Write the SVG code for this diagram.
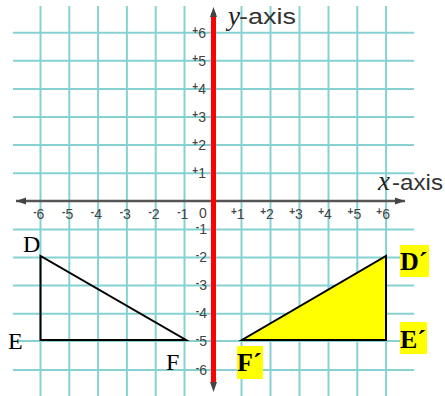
<svg xmlns="http://www.w3.org/2000/svg" width="445" height="396" viewBox="0 0 445 396">
<defs>
<style>
.grid line{stroke:#86d2d2;stroke-width:2}
.tick{font-family:"Liberation Sans",Arial,sans-serif;font-size:14px;fill:#444}
.sm{font-size:10px;font-weight:bold}
.ax{font-family:"Liberation Sans",Arial,sans-serif;font-size:22px;fill:#333}
.var{font-family:"Liberation Serif","Times New Roman",serif;font-style:italic;font-size:27px;fill:#222}
.lbl{font-family:"Liberation Serif","Times New Roman",serif;font-size:24px;fill:#000}
.lblp{font-family:"Liberation Serif","Times New Roman",serif;font-size:26px;font-weight:bold;fill:#000}
.hl{fill:#ffff00}
.tri{stroke:#000;stroke-width:2;stroke-linejoin:miter}
</style>
<marker id="arrA" viewBox="0 0 10 10" refX="10" refY="5" markerWidth="10" markerHeight="10" markerUnits="userSpaceOnUse" orient="auto">
<path d="M0,1.5 L10,5 L0,8.5 z" fill="#444"/>
</marker>
</defs>
<rect width="445" height="396" fill="#fff"/>
<g id="grid" class="grid">
<line x1="40.5" y1="6" x2="40.5" y2="396"/>
<line x1="69.3" y1="6" x2="69.3" y2="396"/>
<line x1="98.1" y1="6" x2="98.1" y2="396"/>
<line x1="126.9" y1="6" x2="126.9" y2="396"/>
<line x1="155.7" y1="6" x2="155.7" y2="396"/>
<line x1="184.5" y1="6" x2="184.5" y2="396"/>
<line x1="241.5" y1="6" x2="241.5" y2="396"/>
<line x1="270.5" y1="6" x2="270.5" y2="396"/>
<line x1="299.5" y1="6" x2="299.5" y2="396"/>
<line x1="328.5" y1="6" x2="328.5" y2="396"/>
<line x1="357.3" y1="6" x2="357.3" y2="396"/>
<line x1="386.1" y1="6" x2="386.1" y2="396"/>
<line x1="13" y1="32.7" x2="414" y2="32.7"/>
<line x1="13" y1="60.8" x2="414" y2="60.8"/>
<line x1="13" y1="88.9" x2="414" y2="88.9"/>
<line x1="13" y1="117" x2="414" y2="117"/>
<line x1="13" y1="145.1" x2="414" y2="145.1"/>
<line x1="13" y1="173.2" x2="414" y2="173.2"/>
<line x1="13" y1="229.4" x2="414" y2="229.4"/>
<line x1="13" y1="257.5" x2="414" y2="257.5"/>
<line x1="13" y1="285.6" x2="414" y2="285.6"/>
<line x1="13" y1="313.7" x2="414" y2="313.7"/>
<line x1="13" y1="341" x2="414" y2="341"/>
<line x1="13" y1="370" x2="414" y2="370"/>
</g>
<g id="connectors">
<line id="x-axis" x1="213" y1="201" x2="16" y2="201" stroke="#555" stroke-width="2.5" marker-end="url(#arrA)"/>
<line x1="213" y1="201" x2="405" y2="201" stroke="#555" stroke-width="2.5" marker-end="url(#arrA)"/>
<line id="y-axis" x1="213.5" y1="13" x2="213.5" y2="382" stroke="#ff0000" stroke-width="5"/>
<line x1="213.5" y1="20" x2="213.5" y2="7" stroke="#444" stroke-width="0.01" marker-end="url(#arrA)"/>
<line x1="213.5" y1="380" x2="213.5" y2="392" stroke="#444" stroke-width="0.01" marker-end="url(#arrA)"/>
</g>
<g id="x-ticks" class="tick">
<text x="44.4" y="219" text-anchor="end"><tspan class="sm" dy="-4">-</tspan><tspan dy="4">6</tspan></text>
<text x="73.2" y="219" text-anchor="end"><tspan class="sm" dy="-4">-</tspan><tspan dy="4">5</tspan></text>
<text x="102" y="219" text-anchor="end"><tspan class="sm" dy="-4">-</tspan><tspan dy="4">4</tspan></text>
<text x="130.8" y="219" text-anchor="end"><tspan class="sm" dy="-4">-</tspan><tspan dy="4">3</tspan></text>
<text x="159.6" y="219" text-anchor="end"><tspan class="sm" dy="-4">-</tspan><tspan dy="4">2</tspan></text>
<text x="188.4" y="219" text-anchor="end"><tspan class="sm" dy="-4">-</tspan><tspan dy="4">1</tspan></text>
<text x="203" y="218" text-anchor="middle">0</text>
<text x="244.6" y="219" text-anchor="end"><tspan class="sm" dy="-4">+</tspan><tspan dy="4">1</tspan></text>
<text x="273.8" y="219" text-anchor="end"><tspan class="sm" dy="-4">+</tspan><tspan dy="4">2</tspan></text>
<text x="302.8" y="219" text-anchor="end"><tspan class="sm" dy="-4">+</tspan><tspan dy="4">3</tspan></text>
<text x="331.8" y="219" text-anchor="end"><tspan class="sm" dy="-4">+</tspan><tspan dy="4">4</tspan></text>
<text x="361.2" y="219" text-anchor="end"><tspan class="sm" dy="-4">+</tspan><tspan dy="4">5</tspan></text>
<text x="390" y="219" text-anchor="end"><tspan class="sm" dy="-4">+</tspan><tspan dy="4">6</tspan></text>
</g>
<g id="y-ticks" class="tick">
<text x="206" y="38" text-anchor="end"><tspan class="sm" dy="-4">+</tspan><tspan dy="4">6</tspan></text>
<text x="206" y="66" text-anchor="end"><tspan class="sm" dy="-4">+</tspan><tspan dy="4">5</tspan></text>
<text x="206" y="94" text-anchor="end"><tspan class="sm" dy="-4">+</tspan><tspan dy="4">4</tspan></text>
<text x="206" y="122" text-anchor="end"><tspan class="sm" dy="-4">+</tspan><tspan dy="4">3</tspan></text>
<text x="206" y="150" text-anchor="end"><tspan class="sm" dy="-4">+</tspan><tspan dy="4">2</tspan></text>
<text x="206" y="178" text-anchor="end"><tspan class="sm" dy="-4">+</tspan><tspan dy="4">1</tspan></text>
<text x="207" y="234" text-anchor="end"><tspan class="sm" dy="-4">-</tspan><tspan dy="4">1</tspan></text>
<text x="207" y="262" text-anchor="end"><tspan class="sm" dy="-4">-</tspan><tspan dy="4">2</tspan></text>
<text x="207" y="290" text-anchor="end"><tspan class="sm" dy="-4">-</tspan><tspan dy="4">3</tspan></text>
<text x="207" y="318" text-anchor="end"><tspan class="sm" dy="-4">-</tspan><tspan dy="4">4</tspan></text>
<text x="207" y="346" text-anchor="end"><tspan class="sm" dy="-4">-</tspan><tspan dy="4">5</tspan></text>
<text x="207" y="375" text-anchor="end"><tspan class="sm" dy="-4">-</tspan><tspan dy="4">6</tspan></text>
</g>
<g id="axis-labels">
<text class="var" x="228" y="25">y</text>
<text class="ax" x="239" y="24" textLength="57" lengthAdjust="spacingAndGlyphs">-axis</text>
<text class="var" x="378" y="190">x</text>
<text class="ax" x="392" y="190" textLength="51" lengthAdjust="spacingAndGlyphs">-axis</text>
</g>
<g id="triangle-DEF">
<polygon class="tri" points="40.5,256 40.5,340 186,340" fill="none"/>
<text class="lbl" x="23" y="252">D</text>
<text class="lbl" x="8" y="349">E</text>
<text class="lbl" x="166" y="370">F</text>
</g>
<g id="triangle-DEF-prime">
<polygon class="tri" points="386,256 386,340 242,340" fill="#ffff00"/>
<rect class="hl" x="400" y="245" width="29" height="32"/>
<text class="lblp" x="400" y="270">D´</text>
<rect class="hl" x="400" y="322" width="27" height="32"/>
<text class="lblp" x="400" y="348">E´</text>
<rect class="hl" x="237" y="346" width="26" height="33"/>
<text class="lblp" x="237" y="371">F´</text>
</g>
</svg>
